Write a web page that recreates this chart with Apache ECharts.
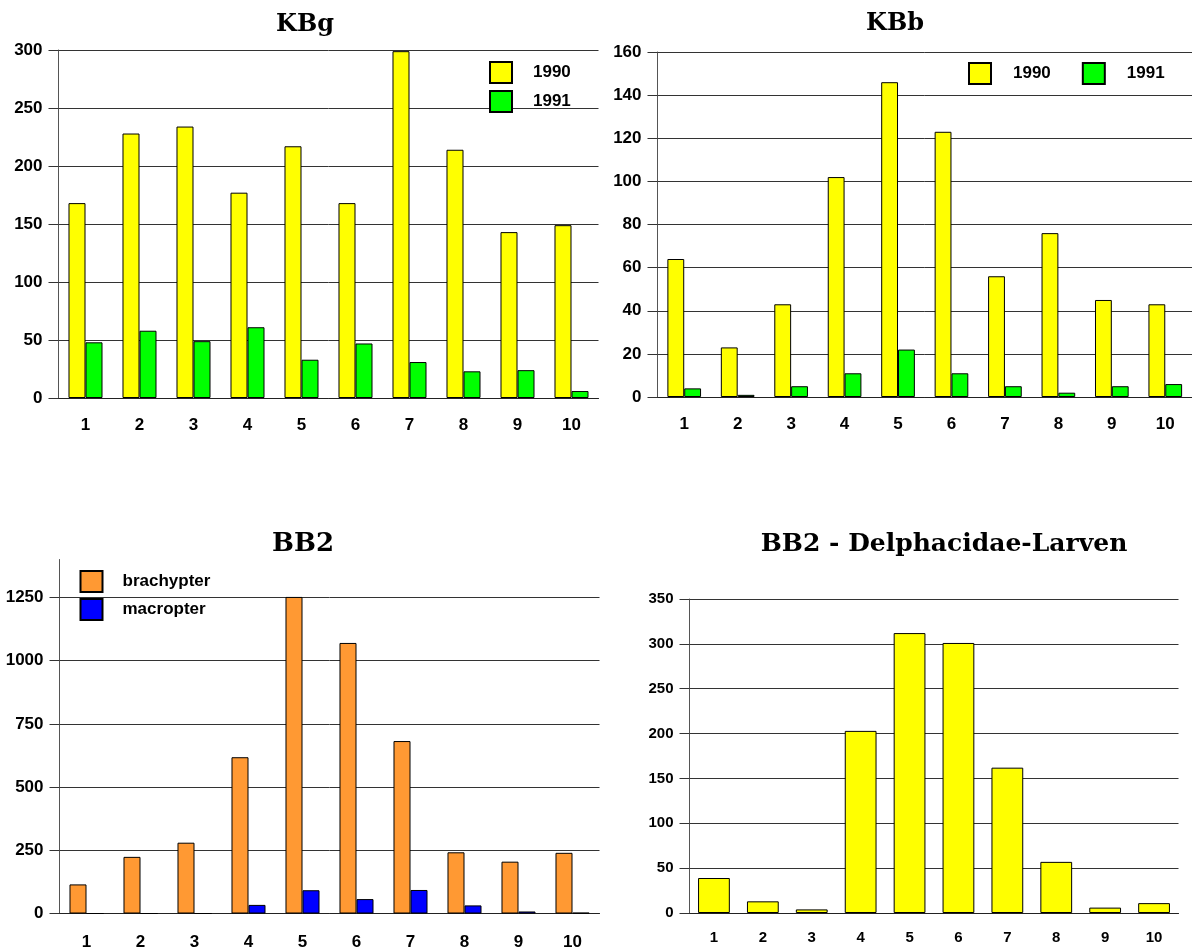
<!DOCTYPE html>
<html>
<head>
<meta charset="utf-8">
<title>KBg / KBb / BB2</title>
<script src="https://cdn.jsdelivr.net/npm/echarts@6/dist/echarts.min.js"></script>
<style>
  html, body { margin: 0; padding: 0; background: #fff; }
  #chart { width: 1192px; height: 951px; }
</style>
</head>
<body>
<div id="chart"></div>
<script>
// Sampling sites 1..10
const categories = ['1', '2', '3', '4', '5', '6', '7', '8', '9', '10'];

// KBg: catches per site, 1990 vs 1991
const kbg1990 = [168, 228, 234, 177, 217, 168, 299, 214, 143, 149];
const kbg1991 = [48, 58, 49, 61, 33, 47, 31, 23, 24, 6];

// KBb: catches per site, 1990 vs 1991
const kbb1990 = [64, 23, 43, 102, 146, 123, 56, 76, 45, 43];
const kbb1991 = [4, 1, 5, 11, 22, 11, 5, 2, 5, 6];

// BB2: wing morphs
const bb2Brachypter = [115, 224, 280, 618, 1252, 1070, 682, 242, 205, 240];
const bb2Macropter = [0, 0, 0, 34, 92, 57, 93, 32, 8, 3];

// BB2: Delphacidae larvae
const bb2Larven = [39, 13, 4, 203, 312, 301, 162, 57, 6, 11];

// Value-axis ranges: [min, max, interval]
const kbgAxis = [0, 300, 50];
const kbbAxis = [0, 160, 20];
const bb2Axis = [0, 1400, 250];
const larvenAxis = [0, 350, 50];

const SANS = '"Liberation Sans", Arial, sans-serif';
const SERIF = '"DejaVu Serif", "Liberation Serif", serif';
const YELLOW = '#FFFF00';
const GREEN = '#00FF00';
const ORANGE = '#FF9933';
const BLUE = '#0000FF';

// plain integers, no thousands separator
const plainNumber = function (v) { return String(v); };

function categoryAxis(gridIndex, fontSize, margin) {
  return {
    type: 'category',
    gridIndex: gridIndex,
    data: categories,
    axisLine: { lineStyle: { color: '#222', width: 1 } },
    axisTick: { alignWithLabel: true, length: 10, lineStyle: { color: '#333' } },
    axisLabel: { color: '#000', fontFamily: SANS, fontWeight: 'bold', fontSize: fontSize, margin: margin },
    splitLine: { show: false }
  };
}

function valueAxis(gridIndex, range, fontSize, hideMax) {
  return {
    type: 'value',
    gridIndex: gridIndex,
    min: range[0],
    max: range[1],
    interval: range[2],
    axisLine: { show: true, lineStyle: { color: '#555', width: 1 } },
    axisTick: { show: true, length: 10, lineStyle: { color: '#333' } },
    axisLabel: {
      color: '#000', fontFamily: SANS, fontWeight: 'bold', fontSize: fontSize, margin: 16,
      formatter: plainNumber, showMaxLabel: !hideMax
    },
    splitLine: { show: true, showMaxLine: !hideMax, lineStyle: { color: '#333', width: 1 } }
  };
}

function barSeries(name, data, color, axisIndex, gap) {
  return {
    type: 'bar',
    name: name,
    data: data,
    xAxisIndex: axisIndex,
    yAxisIndex: axisIndex,
    barGap: '0%',
    barCategoryGap: gap,
    itemStyle: { color: color, borderColor: '#000', borderWidth: 1 },
    emphasis: { disabled: true },
    animation: false
  };
}

function titleText(text, x, y, size) {
  return {
    type: 'text',
    x: x,
    y: y,
    style: {
      text: text,
      fill: '#000',
      fontFamily: SERIF,
      fontWeight: 'bold',
      fontSize: size,
      align: 'center',
      verticalAlign: 'middle',
      textAlign: 'center',
      textVerticalAlign: 'middle'
    }
  };
}

const legendText = { color: '#000', fontFamily: SANS, fontWeight: 'bold', fontSize: 17 };

const option = {
  animation: false,
  backgroundColor: '#fff',
  graphic: [
    titleText('KBg', 305, 25, 24),
    titleText('KBb', 895, 24, 24),
    titleText('BB2', 303, 544, 26),
    titleText('BB2 - Delphacidae-Larven', 944, 544, 25)
  ],
  legend: [
    {
      data: ['1990', '1991'],
      orient: 'vertical',
      left: 489, top: 61,
      padding: 0,
      itemWidth: 22, itemHeight: 21, itemGap: 6,
      icon: 'rect',
      selectedMode: false,
      textStyle: Object.assign({ padding: [0, 0, 0, 16] }, legendText)
    },
    {
      data: ['1990', '1991'],
      orient: 'horizontal',
      left: 968, top: 62,
      padding: 0,
      itemWidth: 22, itemHeight: 21, itemGap: 31,
      icon: 'rect',
      selectedMode: false,
      textStyle: Object.assign({ padding: [0, 0, 0, 17] }, legendText)
    },
    {
      data: ['brachypter', 'macropter'],
      orient: 'vertical',
      left: 79.5, top: 570,
      padding: 0,
      itemWidth: 22, itemHeight: 21, itemGap: 5,
      icon: 'rect',
      selectedMode: false,
      textStyle: Object.assign({ padding: [0, 0, 0, 15] }, legendText)
    }
  ],
  grid: [
    { left: 58.5, top: 50, width: 540, height: 348 },
    { left: 657.5, top: 52, width: 537, height: 345 },
    { left: 59.5, top: 559.5, width: 540, height: 354 },
    { left: 689.5, top: 599, width: 489, height: 314 }
  ],
  xAxis: [
    categoryAxis(0, 17, 19),
    categoryAxis(1, 17, 19),
    categoryAxis(2, 17, 20),
    categoryAxis(3, 15, 17)
  ],
  yAxis: [
    valueAxis(0, kbgAxis, 17, false),
    valueAxis(1, kbbAxis, 17, false),
    valueAxis(2, bb2Axis, 17, true),
    valueAxis(3, larvenAxis, 15, false)
  ],
  series: [
    barSeries('1990', kbg1990, YELLOW, 0, '37%'),
    barSeries('1991', kbg1991, GREEN, 0, '37%'),
    barSeries('1990', kbb1990, YELLOW, 1, '37%'),
    barSeries('1991', kbb1991, GREEN, 1, '37%'),
    barSeries('brachypter', bb2Brachypter, ORANGE, 2, '37%'),
    barSeries('macropter', bb2Macropter, BLUE, 2, '37%'),
    barSeries('Delphacidae-Larven', bb2Larven, YELLOW, 3, '35%')
  ]
};

const chart = echarts.init(document.getElementById('chart'), null, { renderer: 'canvas' });
chart.setOption(option);
</script>
</body>
</html>
